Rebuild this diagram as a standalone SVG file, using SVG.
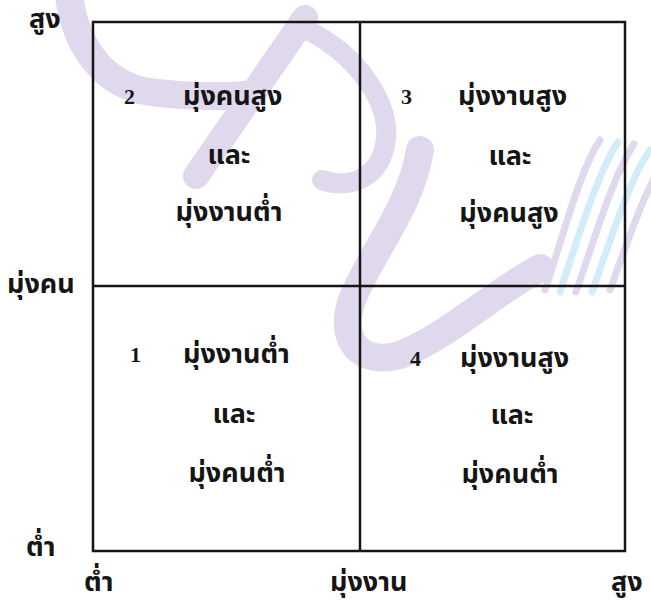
<svg xmlns="http://www.w3.org/2000/svg" width="651" height="602" viewBox="0 0 651 602">
<style>
.th{font-family:"Noto Sans Thai","Noto Serif Thai","Loma","Garuda","DejaVu Sans",sans-serif;font-weight:bold;font-size:27px;fill:#151515}
.num{font-family:"Liberation Serif",serif;font-weight:bold;font-size:22px;fill:#151515}
.ln{stroke:#151515;stroke-width:2.5;fill:none}
.wm{fill:none;stroke:#e0d8ed;stroke-linecap:round}
.wc{fill:none;stroke:#d3ecf7;stroke-linecap:round}
</style>
<rect width="651" height="602" fill="#fff"/>
<g id="watermark">
<path class="wm" stroke-width="28" d="M68,-14 C72,40 100,85 150,92 C190,97 220,97 245,95"/>
<path class="wm" stroke-width="26" d="M305,18 L196,176"/>
<path class="wm" stroke-width="20" d="M302,28 C345,45 390,95 386,138 C382,178 350,190 322,180"/>
<path class="wm" stroke-width="28" d="M420,150 C410,210 372,250 352,300 C338,340 360,366 400,355 C450,335 490,295 540,268"/>
<path class="wm" stroke-width="7" d="M545,290 C565,230 580,170 600,140"/>
<path class="wc" stroke-width="7" d="M560,292 C580,232 598,172 618,142"/>
<path class="wm" stroke-width="7" d="M576,292 C596,234 614,174 634,144"/>
<path class="wc" stroke-width="7" d="M592,292 C612,236 630,178 650,150"/>
<path class="wm" stroke-width="7" d="M610,290 C628,240 642,200 656,175"/>
</g>
<g id="connectors">
<rect class="ln" x="93" y="22" width="532" height="529"/>
<line class="ln" x1="93" y1="286" x2="625" y2="286"/>
<line class="ln" x1="360" y1="22" x2="360" y2="551"/>
</g>
<g id="axis-labels">
<text class="th" x="29" y="28">สูง</text>
<text class="th" x="7" y="293">มุ่งคน</text>
<text class="th" x="26" y="556">ต่ำ</text>
<text class="th" x="84" y="591">ต่ำ</text>
<text class="th" x="330" y="591">มุ่งงาน</text>
<text class="th" x="611" y="591">สูง</text>
</g>
<g id="q2">
<text class="num" x="124" y="104">2</text>
<text class="th" x="183" y="105">มุ่งคนสูง</text>
<text class="th" x="229" y="164" text-anchor="middle">และ</text>
<text class="th" x="229" y="221" text-anchor="middle">มุ่งงานต่ำ</text>
</g>
<g id="q3">
<text class="num" x="401" y="104">3</text>
<text class="th" x="458" y="105">มุ่งงานสูง</text>
<text class="th" x="510" y="165" text-anchor="middle">และ</text>
<text class="th" x="509" y="222" text-anchor="middle">มุ่งคนสูง</text>
</g>
<g id="q1">
<text class="num" x="130" y="362">1</text>
<text class="th" x="183" y="363">มุ่งงานต่ำ</text>
<text class="th" x="234" y="423" text-anchor="middle">และ</text>
<text class="th" x="237" y="482" text-anchor="middle">มุ่งคนต่ำ</text>
</g>
<g id="q4">
<text class="num" x="410" y="366">4</text>
<text class="th" x="460" y="367">มุ่งงานสูง</text>
<text class="th" x="512" y="424" text-anchor="middle">และ</text>
<text class="th" x="510" y="483" text-anchor="middle">มุ่งคนต่ำ</text>
</g>
</svg>
